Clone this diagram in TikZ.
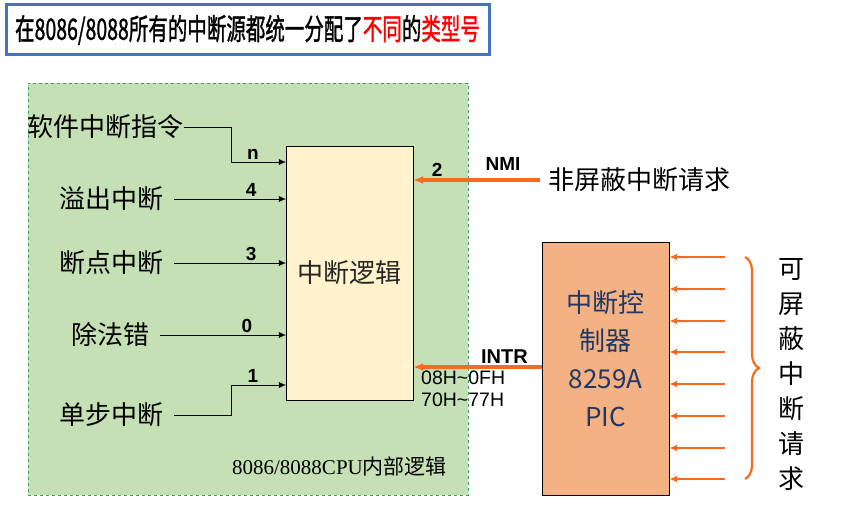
\documentclass[tikz,border=0pt]{standalone}
\usepackage{fontspec}
\setmainfont{Liberation Sans}
\newfontfamily\cjk{Noto Sans CJK SC}
\newfontfamily\cjkheavy[FakeBold=1.5]{Noto Sans CJK SC}
\newfontfamily\serifnum{Liberation Serif}
\usepackage{xcolor}
\usepackage{graphicx}
\usetikzlibrary{arrows.meta,decorations.pathreplacing}

\definecolor{titleblue}{HTML}{4472C4}
\definecolor{cpugreen}{HTML}{C5E0B4}
\definecolor{cpuedge}{HTML}{3E9B6A}
\definecolor{logicfill}{HTML}{FFF2CC}
\definecolor{ctrlfill}{HTML}{F4B183}
\definecolor{ctrlink}{HTML}{1F3864}
\definecolor{irqorange}{HTML}{F86A1C}

\begin{document}
\begin{tikzpicture}[x=1pt,y=-1pt,
        src/.style = {inner sep=0pt, font=\cjk\fontsize{26}{30}\selectfont},
        tag/.style = {inner sep=1pt, font=\bfseries\fontsize{19}{21}\selectfont},
        logic/.style = {shape=rectangle, draw=black, fill=logicfill,
          minimum width=127pt, minimum height=254pt,
          text=black!85, font=\cjk\fontsize{26}{30}\selectfont},
        ctrl/.style = {shape=rectangle, draw=black, fill=ctrlfill,
          minimum width=127pt, minimum height=253pt},
        inarrow/.style = {draw=black, thin, -{Latex[length=7pt,width=6pt]}},
        irq/.style = {draw=irqorange, line width=3.2pt, -{Latex[length=10pt,width=8pt]}},
        irqin/.style = {draw=irqorange, line width=2.6pt, -{Latex[length=8pt,width=7pt]}}
        ]
        \useasboundingbox (0,0) rectangle (850,510);

        % title
        \node[draw=titleblue, line width=3pt, minimum width=483pt, minimum height=50pt,
          inner sep=0pt, font=\cjkheavy\fontsize{19.5}{22}\selectfont] (title) at (247.5,30)
          {\scalebox{1}[1.5]{在8086/8088所有的中断源都统一分配了\textcolor{red}{不同}的\textcolor{red}{类型号}}};

        % CPU internal area
        \node[draw=cpuedge, dashed, fill=cpugreen, minimum width=440pt, minimum height=412pt] (cpu) at (248,289) {};
        \node[inner sep=0pt, font=\fontsize{21}{24}\selectfont] (cpulabel) at (339.5,466)
          {\serifnum 8086/8088CPU\cjk 内部逻辑};

        \node[logic] (logic) at (349.5,273) {中断逻辑};

        % interrupt sources
        \node[src] (soft) at (105.5,127) {软件中断指令};
        \node[src] (ovf) at (111,199) {溢出中断};
        \node[src] (brk) at (111,263) {断点中断};
        \node[src] (div) at (110,335) {除法错};
        \node[src] (single) at (111,415) {单步中断};

        \coordinate (bendn) at (231,162);
        \coordinate (bend1) at (231,385);

        \draw[inarrow] (soft.east) -| (bendn) -- (bendn -| logic.west) node[tag, pos=0.4, above=1pt]{n};
        \draw[inarrow] ([xshift=11pt]ovf.east) -- (ovf -| logic.west) node[tag, pos=0.69, above=1pt]{4};
        \draw[inarrow] ([xshift=11pt]brk.east) -- (brk -| logic.west) node[tag, pos=0.69, above=1pt]{3};
        \draw[inarrow] ([xshift=11pt]div.east) -- (div -| logic.west) node[tag, pos=0.69, above=1pt]{0};
        \draw[inarrow] ([xshift=11pt]single.east) -| (bend1) -- (bend1 -| logic.west) node[tag, pos=0.4, above=1pt]{1};

        % NMI
        \node[src] (nmisrc) at (639,180) {非屏蔽中断请求};
        \draw[irq] ([xshift=-8pt]nmisrc.west) -- (nmisrc -| logic.east)
          node[tag, pos=0.81, above=1pt]{2}
          node[tag, pos=0.29, above=7pt, font=\bfseries\fontsize{19}{21}\selectfont]{NMI};

        % interrupt controller
        \node[ctrl] (ctrl) at (605.5,368.5) {};
        \node[inner sep=0pt, align=center, text=ctrlink, font=\cjk\fontsize{26}{38}\selectfont] (ctrltext)
          at (605.5,359) {中断控\\制器\\8259A\\PIC};

        \draw[irq] (ctrl.west |- 0,367) -- (logic.east |- 0,367)
          node[tag, pos=0.29, above=1pt, font=\bfseries\fontsize{20}{22}\selectfont]{INTR};
        \node[inner sep=0pt, anchor=north west, align=left, font=\fontsize{19.5}{22}\selectfont] (vecrange)
          at (421,371) {08H\textasciitilde0FH\\70H\textasciitilde77H};

        % maskable requests
        \coordinate (r1) at (725,257);
        \coordinate (r2) at (725,289);
        \coordinate (r3) at (725,321);
        \coordinate (r4) at (725,352);
        \coordinate (r5) at (725,384);
        \coordinate (r6) at (725,416);
        \coordinate (r7) at (725,448);
        \coordinate (r8) at (725,479);
        \draw[irqin] (r1) -- (r1 -| ctrl.east);
        \draw[irqin] (r2) -- (r2 -| ctrl.east);
        \draw[irqin] (r3) -- (r3 -| ctrl.east);
        \draw[irqin] (r4) -- (r4 -| ctrl.east);
        \draw[irqin] (r5) -- (r5 -| ctrl.east);
        \draw[irqin] (r6) -- (r6 -| ctrl.east);
        \draw[irqin] (r7) -- (r7 -| ctrl.east);
        \draw[irqin] (r8) -- (r8 -| ctrl.east);

        \draw[draw=irqorange, line width=2.2pt, decorate, decoration={brace, amplitude=14pt}]
          ([xshift=20pt]r1) -- ([xshift=20pt]r8);
        \node[inner sep=0pt, align=center, font=\cjk\fontsize{26}{35}\selectfont] (mask)
          at (791,375) {可\\屏\\蔽\\中\\断\\请\\求};
      \end{tikzpicture}
\end{document}
